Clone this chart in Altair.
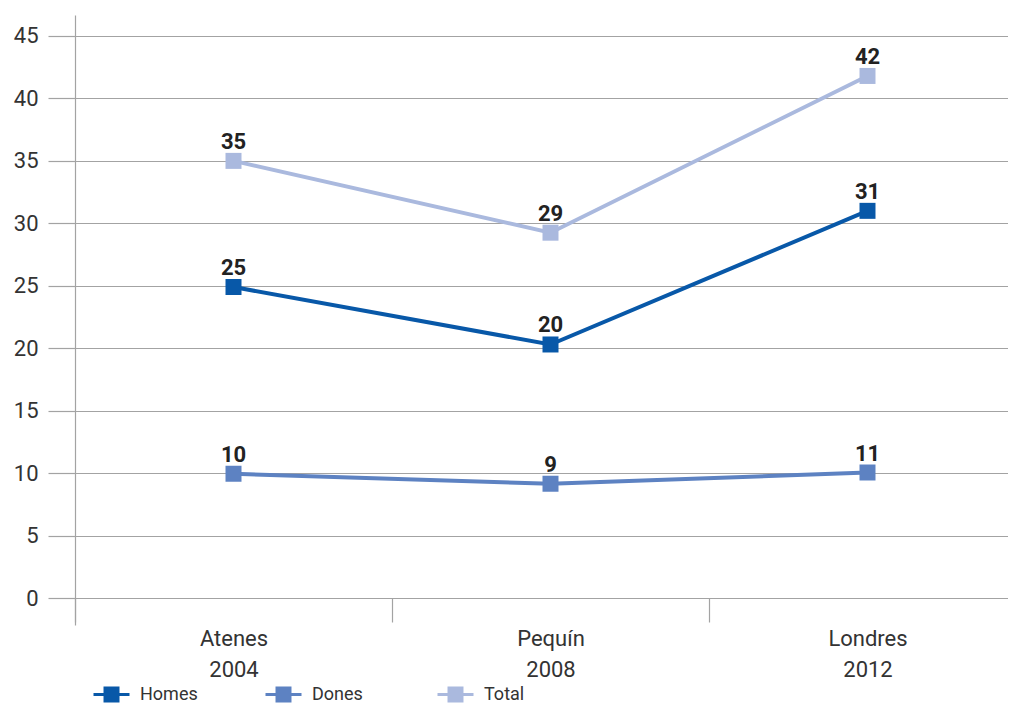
import altair as alt
import pandas as pd

categories = ["Atenes 2004", "Pequín 2008", "Londres 2012"]
series = ["Homes", "Dones", "Total"]
homes = [24.9, 20.3, 31.0]
dones = [9.95, 9.15, 10.05]
total = [35.0, 29.25, 41.8]
homes_lbl = ["25", "20", "31"]
dones_lbl = ["10", "9", "11"]
total_lbl = ["35", "29", "42"]
y_ticks = [0, 5, 10, 15, 20, 25, 30, 35, 40, 45]
colors = ["#0858a8", "#5d82c2", "#aab9de"]

rows = []
for s, vals, lbls in [("Homes", homes, homes_lbl), ("Dones", dones, dones_lbl), ("Total", total, total_lbl)]:
    for c, v, l in zip(categories, vals, lbls):
        rows.append({"series": s, "cat": c, "value": v, "label": l})
df = pd.DataFrame(rows)

FONT = "Roboto"
GRID = "#a3a3a3"

x_enc = alt.X(
    "cat:N",
    sort=categories,
    scale=alt.Scale(type="band", paddingInner=0, paddingOuter=0, range=[0, 951]),
    axis=alt.Axis(
        title=None, labelAngle=0, domain=False, grid=False,
        tickBand="extent", tickSize=24, tickColor=GRID, tickWidth=1.2,
        offset=-27, labelPadding=6, labelFontSize=22, labelFont=FONT,
        labelColor="#333333", labelLineHeight=31,
        labelExpr="split(datum.label, ' ')",
    ),
    bandPosition=0.5,
)
y_enc = alt.Y(
    "value:Q",
    scale=alt.Scale(domain=[-2.16, 46.68], nice=False, zero=False),
    axis=alt.Axis(
        title=None, values=y_ticks, grid=True, gridColor=GRID, gridWidth=1.2,
        domain=True, domainColor=GRID, domainWidth=1.2,
        tickSize=27, tickColor=GRID, tickWidth=1.2,
        labelPadding=10, labelFontSize=22, labelFont=FONT, labelColor="#333333",
    ),
)

color_scale = alt.Scale(domain=series, range=colors)

# line + filled square drawn with strokes only (rows of width-3 strokes fill the square)
SYMBOL = ("M-1,0H1"
          "M-0.444,-0.361H0.444M-0.444,-0.194H0.444M-0.444,-0.028H0.444"
          "M-0.444,0.139H0.444M-0.444,0.306H0.444M-0.444,0.361H0.444")

legend = alt.Legend(
    title=None, orient="none", legendX=17, legendY=660, direction="horizontal",
    columns=3, gridAlign="all", columnPadding=61,
    symbolType=SYMBOL, symbolSize=1296, symbolStrokeWidth=3,
    labelFontSize=18, labelFont=FONT, labelColor="#333333",
    labelOffset=9, padding=0,
)

base = alt.Chart(df).encode(x=x_enc, y=y_enc)

lines = base.mark_line(strokeWidth=4).encode(
    color=alt.Color("series:N", scale=color_scale, legend=legend),
)

points = base.mark_point(shape="square", filled=True, size=256, opacity=1).encode(
    color=alt.Color("series:N", scale=color_scale, legend=None),
)

texts = base.mark_text(
    dy=-12, baseline="alphabetic", align="center", fontSize=22, fontWeight="bold",
    font=FONT, color="#222222",
).encode(text="label:N")

chart = alt.layer(lines, points, texts).properties(
    width=933, height=610,
    autosize=alt.AutoSizeParams(type="none"),
    padding={"left": 67, "top": 7, "right": 0, "bottom": 82},
).configure_view(stroke=None)

chart.save("out.html", embed_options={"renderer": "svg", "actions": False})
